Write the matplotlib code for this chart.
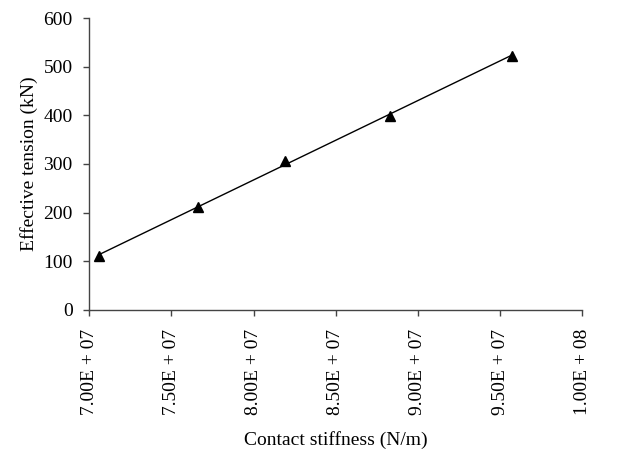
import numpy as np
import matplotlib
matplotlib.use("Agg")
import matplotlib.pyplot as plt
from matplotlib.ticker import FuncFormatter

# data
stiffness = [7.06e7, 7.66e7, 8.19e7, 8.83e7, 9.57e7]
tension = [111, 211, 306, 399, 523]

plt.rcParams['font.family'] = ['Liberation Serif', 'DejaVu Serif']

fig = plt.figure(figsize=(6.33, 4.53), dpi=100)
ax = fig.add_axes([0.141, 0.316, 0.779, 0.644])

# linear trend line through the points
coef = np.polyfit(stiffness, tension, 1)
xs = np.array([stiffness[0], stiffness[-1]])
ax.plot(xs, np.polyval(coef, xs), color='black', lw=1.0)
ax.plot(stiffness, tension, linestyle='none', marker='^', color='black', markersize=6.5)

ax.set_xlim(7e7, 1e8)
ax.set_ylim(0, 600)
ax.set_xticks(np.arange(7e7, 1.0001e8, 5e6))
ax.set_yticks(np.arange(0, 601, 100))

def sci(v, pos):
    e = int(np.floor(np.log10(v)))
    m = v / 10 ** e
    return "%.2fE + %02d" % (m, e)

ax.xaxis.set_major_formatter(FuncFormatter(sci))
plt.setp(ax.get_xticklabels(), rotation=90)

for s in ['top', 'right']:
    ax.spines[s].set_visible(False)
for s in ['left', 'bottom']:
    ax.spines[s].set_color('#444444')
    ax.spines[s].set_linewidth(1.0)
ax.tick_params(direction='out', length=4, width=1, color='#444444', labelsize=14)
ax.tick_params(axis='y', pad=8)
ax.tick_params(axis='x', pad=9.5)

ax.set_xlabel('Contact stiffness (N/m)', fontsize=14, labelpad=11.5)
ax.set_ylabel('Effective tension (kN)', fontsize=14, labelpad=4)

fig.savefig('out.png', dpi=100)
